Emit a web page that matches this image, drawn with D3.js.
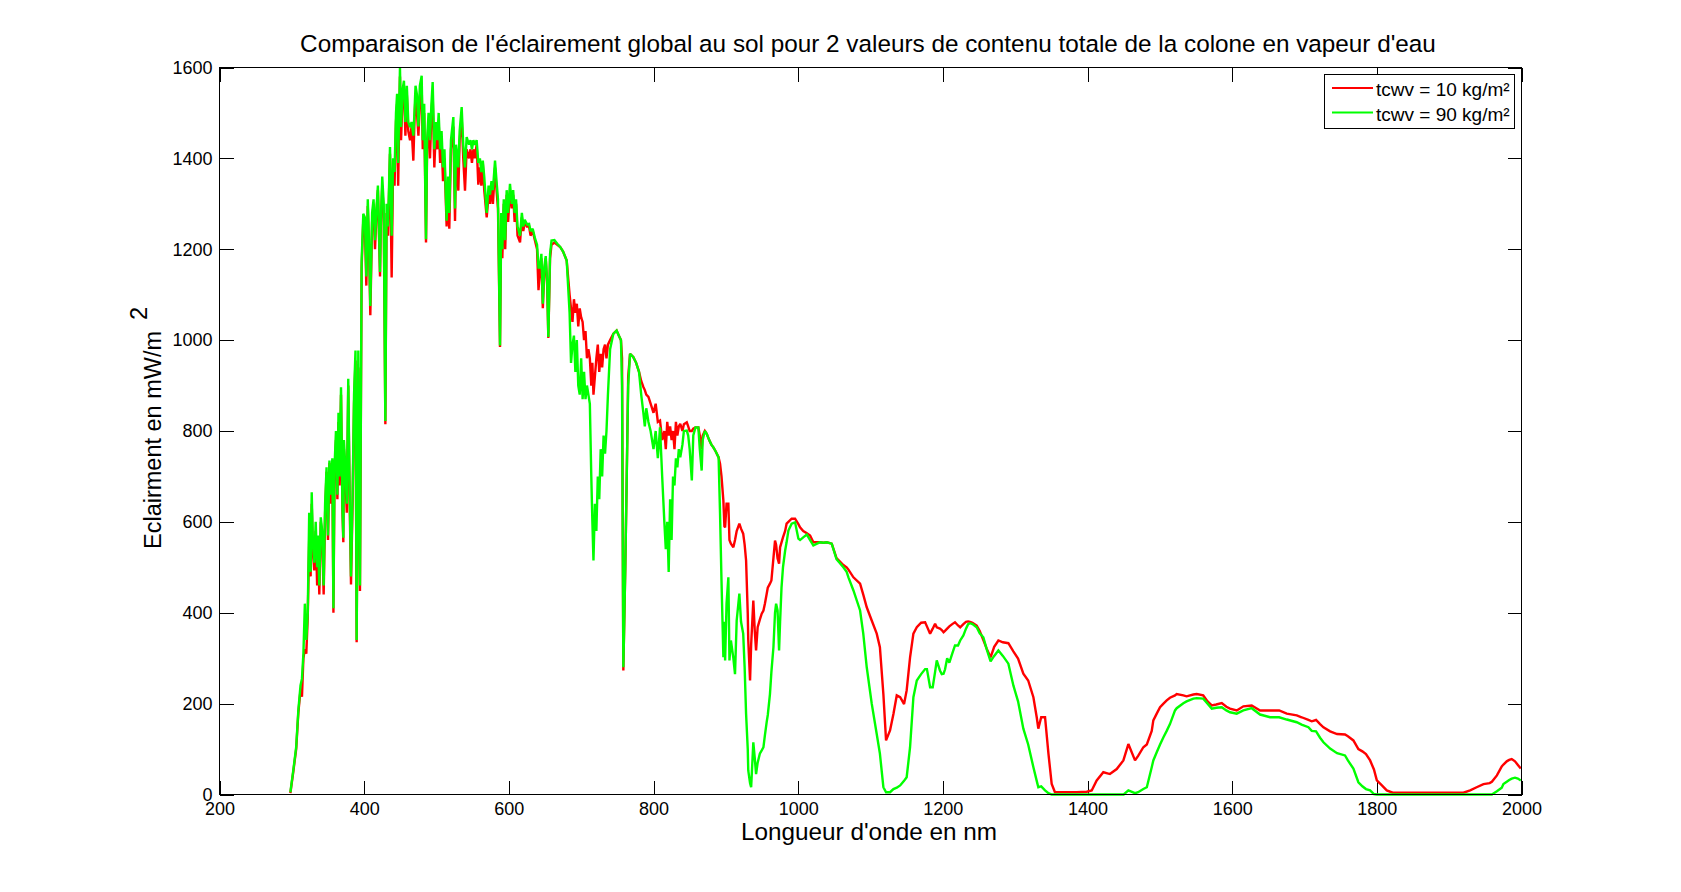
<!DOCTYPE html>
<html><head><meta charset="utf-8">
<script src="https://cdn.jsdelivr.net/npm/d3@7"></script>
<style>
body{margin:0;background:#fff}
text{font-family:"Liberation Sans",Arial,Helvetica,sans-serif;fill:#000}
</style>
</head><body>
<svg id="chart" width="1681" height="892"></svg>
<script>
// ---------- DATA ----------
const xTickValues = [200,400,600,800,1000,1200,1400,1600,1800,2000];
const yTickValues = [0,200,400,600,800,1000,1200,1400,1600];
const seriesNames = ["tcwv = 10 kg/m\u00b2", "tcwv = 90 kg/m\u00b2"];
const titleText = "Comparaison de l'\u00e9clairement global au sol pour 2 valeurs de contenu totale de la colone en vapeur d'eau";
const xLabelText = "Longueur d'onde en nm";
const yLabelText = "Eclairment en mW/m";

// [wavelength nm, irradiance] for tcwv = 10 kg/m²
const tcwv10 = [[298,3],[302,50],[306,100],[309,180],[312,230],[314,215],[316,300],[318,320],[320,310],[322,390],[324,560],[326,480],[327.5,640],[329,540],[331,493],[333,580],[335,460],[336,560],[338,440],[340,600],[342,560],[344,440],[346,620],[348,710],[350,560],[352,730],[354,640],[356,720],[357.5,400],[359,700],[361,780],[363,650],[364.5,820],[366,680],[368,880],[370,620],[371.2,555],[372,760],[374,700],[376,620],[378,900],[380,640],[381.8,462],[384,640],[386,860],[388,955],[389.6,335],[391.9,940],[394.2,448],[396.5,1160],[398.8,1265],[401,1250],[403,1120],[405,1295],[407,1180],[408.5,1055],[411,1260],[413,1300],[415,1200],[417,1280],[419,1330],[421.9,1140],[423,1250],[425,1340],[427,1280],[429.3,815],[431,1280],[433,1230],[435.7,1410],[438,1138],[440,1380],[442,1340],[444,1480],[445.5,1520],[447,1340],[449.5,1580],[451,1440],[453,1530],[455,1560],[457,1450],[459,1540],[461,1460],[463.4,1440],[465.5,1470],[468,1395],[469.5,1480],[471,1540],[473,1500],[475,1450],[477,1520],[479.5,1560],[481,1420],[483,1500],[485.5,1215],[487,1420],[489,1480],[491,1400],[493,1500],[494.7,1540],[497,1380],[499,1460],[501,1420],[503,1480],[505,1390],[507,1440],[509,1350],[511,1400],[514,1250],[516,1330],[517.7,1245],[520,1420],[523.3,1470],[525.6,1262],[527,1400],[530.2,1329],[532,1440],[534.8,1490],[537,1400],[539.4,1329],[541.7,1420],[545,1400],[547,1420],[549,1390],[551,1420],[553,1400],[555.5,1430],[557.8,1342],[560,1380],[562,1340],[564,1390],[566,1330],[569.4,1270],[572,1320],[574,1300],[576,1340],[578,1300],[580.9,1380],[583,1330],[585,1290],[587.8,985],[589.5,1260],[591,1180],[593,1300],[595,1200],[597,1320],[599,1260],[601.6,1330],[604,1290],[606,1320],[608,1260],[610,1300],[612,1230],[615.5,1215],[618,1270],[620,1240],[622,1260],[625,1250],[628,1250],[630,1230],[633,1240],[636,1220],[639,1200],[641,1110],[643,1150],[645,1180],[647,1070],[649,1150],[651,1180],[653,1120],[654.6,1005],[657,1180],[659,1210],[663,1215],[667,1210],[671,1205],[675,1195],[680,1175],[684,1100],[686,1070],[688,1040],[690,1090],[692,1060],[694,1080],[696,1030],[698,1070],[700,1050],[702,1040],[704,1000],[706,1020],[708,960],[710,980],[712,960],[714,900],[715.5,950],[717,880],[719,920],[721,960],[723,990],[725,930],[727,970],[729,940],[731,980],[733,990],[735,960],[737,990],[740,1000],[744.5,1014],[749,1021],[752,1010],[755,1000],[756.5,960],[758.3,273],[761,500],[763,700],[765,920],[767.6,970],[772,963],[776,950],[780,930],[783,910],[786,897],[788,890],[790,880],[793,875],[796,860],[800,840],[803,860],[806,820],[809,823],[812,780],[815,800],[817,760],[819,820],[821,790],[823,810],[825,780],[827,800],[829,760],[831,820],[833,790],[835,810],[837,816],[840,800],[842,815],[846,819],[848,810],[850,800],[853,800],[855,805],[858,808],[862,808],[864,790],[866.6,760],[868,790],[871,800],[873.6,794],[877,780],[880,770],[882.8,764],[886,755],[890,742],[892,728],[894,700],[896.6,647],[898,590],[899,588],[901,640],[903.5,640],[905,560],[907,552],[910.4,544],[912.7,560],[915,580],[918.7,596],[921,585],[924,574],[926,550],[928,515],[930.3,398],[931,340],[933.5,251],[935,330],[938,427],[940,360],[941.8,317],[944,368],[947,385],[949.6,398],[952,405],[954,420],[956.5,442],[958,455],[961,464],[963,471],[965.8,520],[968,559],[969.5,550],[971.5,520],[973.6,508],[975,544],[977,555],[979,566],[982,580],[984,596],[986.5,600],[991,607],[995.7,607],[1000.3,595],[1002.6,588],[1007,580],[1012,575],[1016.5,570],[1021,555],[1026,555],[1030,555],[1035,554],[1039.5,555],[1046.4,552],[1053,520],[1062.5,505],[1067,500],[1069.5,495],[1076.4,478],[1085.6,464],[1090,440],[1094.8,412],[1101.7,383],[1108.6,354],[1113,324],[1117.8,221],[1121.5,119],[1127,141],[1131.7,177],[1136.3,218],[1141,214],[1146.4,199],[1150,229],[1154.7,302],[1159.3,354],[1164,368],[1170,378],[1175.5,379],[1178,370],[1182.4,354],[1186,365],[1189.3,376],[1191.6,368],[1196,365],[1198.5,362],[1201,357],[1203,360],[1206,365],[1209,370],[1213,375],[1216.8,379],[1221,372],[1224,368],[1228.4,375],[1232,380],[1235,381],[1237.6,380],[1241,378],[1246.8,372],[1251,360],[1256,340],[1260.6,321],[1266,302],[1271,325],[1276.8,339],[1283,335],[1290.6,333],[1297.5,315],[1304,299],[1311.3,266],[1318,251],[1325.2,214],[1329.8,170],[1332,145],[1336,170],[1341.3,170],[1346,90],[1350.5,23],[1355,5],[1370,5],[1385,5],[1399,6],[1405.8,9],[1412.7,31],[1421.9,49],[1431,45],[1440.4,56],[1449.6,75],[1456.5,111],[1465.7,75],[1470,85],[1477.2,104],[1482,110],[1488.8,140],[1491,163],[1495.7,178],[1500.3,192],[1505,200],[1509.5,207],[1514,213],[1521,218],[1523.3,221],[1532.5,218],[1537,216],[1546.4,220],[1551,221],[1560,218],[1566,205],[1571.8,196],[1578,198],[1585.6,201],[1592,193],[1597,189],[1606.3,185],[1615.5,194],[1627,196],[1638.6,185],[1652.4,185],[1665,185],[1675.5,178],[1689.3,174],[1696,170],[1705.4,164],[1710,161],[1716,164],[1721.5,155],[1726.2,148],[1735.4,139],[1745,133],[1756,132],[1760,128],[1767.6,119],[1774.5,100],[1780,95],[1785,89],[1790.7,75],[1796,55],[1800,31],[1807,20],[1813.7,9],[1822,4],[1850,4],[1880,4],[1919.7,4],[1929,9],[1938,16],[1947.4,23],[1956,25],[1959,28],[1966,42],[1972.7,62],[1975,66],[1979.6,73],[1983,76],[1986.5,78],[1991,73],[1995,65],[1999,57]];

// [wavelength nm, irradiance] for tcwv = 90 kg/m²
const tcwv90 = [[298,5],[302,53],[306,104],[309,185],[312,240],[314,255],[316,310],[318,420],[320,340],[322,400],[324,620],[326,490],[327.5,665],[329,560],[331,510],[333,600],[335,500],[336,570],[338,460],[340,610],[342,580],[344,460],[346,640],[348,720],[350,570],[352,735],[354,660],[356,740],[357.5,410],[359,720],[361,800],[363,660],[364.5,840],[366,700],[368,896],[370,630],[371.2,565],[372,780],[374,720],[376,640],[378,915],[380,660],[381.8,480],[384,660],[386,880],[388,977],[389.6,340],[391.9,977],[394.2,460],[396.5,1175],[398.8,1278],[401,1270],[403,1140],[405,1310],[407,1200],[408.5,1075],[411,1280],[413,1310],[415,1220],[417,1290],[419,1340],[421.9,1150],[423,1260],[425,1360],[427,1300],[429.3,822],[431,1300],[433,1250],[435.7,1425],[438,1230],[440,1400],[442,1370],[444,1500],[445.5,1542],[447,1390],[449.5,1600],[451,1469],[453,1550],[455,1571],[457,1480],[459,1560],[461,1480],[463.4,1469],[465.5,1480],[468,1450],[469.5,1500],[471,1560],[473,1540],[475,1470],[477,1560],[479.5,1582],[481,1440],[483,1520],[485.5,1222],[487,1440],[489,1500],[491,1440],[493,1520],[494.7,1568],[497,1420],[499,1480],[501,1440],[503,1500],[505,1420],[507,1460],[509,1380],[511,1420],[514,1263],[516,1360],[517.7,1280],[520,1440],[523.3,1491],[525.6,1290],[527,1430],[530.2,1380],[532,1460],[534.8,1513],[537,1430],[539.4,1380],[541.7,1447],[545,1430],[547,1440],[549,1420],[551,1440],[553,1430],[555.5,1440],[557.8,1390],[560,1400],[562,1370],[564,1395],[566,1360],[569.4,1280],[572,1340],[574,1320],[576,1350],[578,1330],[580.9,1395],[583,1350],[585,1310],[587.8,988],[589.5,1280],[591,1200],[593,1310],[595,1220],[597,1330],[599,1280],[601.6,1344],[604,1300],[606,1330],[608,1280],[610,1310],[612,1250],[615.5,1230],[618,1280],[620,1250],[622,1265],[625,1255],[628,1256],[630,1240],[633,1245],[636,1225],[639,1210],[641,1160],[643,1160],[645,1190],[647,1080],[649,1160],[651,1185],[653,1130],[654.6,1007],[657,1190],[659,1219],[663,1220],[667,1212],[671,1205],[675,1195],[680,1175],[684,1060],[686,950],[688,990],[690,1010],[692,930],[694,1000],[696,900],[698,880],[700,960],[702,870],[704,930],[706,870],[708,900],[710,880],[712,860],[714,700],[715.5,600],[717,515],[719,640],[721,580],[723,700],[725,650],[727,760],[729,700],[731,790],[733,750],[735,800],[737,880],[740,980],[744.5,1014],[749,1021],[752,1010],[755,1000],[756.5,900],[758.3,280],[761,500],[763,700],[765,900],[767.6,970],[772,963],[776,950],[780,930],[783,880],[786,840],[788,810],[790,850],[793,820],[796,800],[800,760],[803,800],[806,740],[809,808],[812,700],[815,600],[817,540],[819,600],[821,490],[823,650],[825,560],[827,700],[829,680],[831,740],[833,720],[835,760],[837,742],[840,770],[842,800],[846,801],[848,790],[850,760],[853,691],[855,790],[858,808],[862,808],[864,760],[866.6,713],[868,780],[871,800],[873.6,794],[877,780],[880,770],[882.8,764],[886,755],[890,742],[892,618],[894,471],[896.6,302],[898,380],[899,295],[901,420],[903.5,478],[905,295],[907,339],[910.4,300],[912.7,265],[915,383],[918.7,442],[921,380],[924,354],[926,280],[928,177],[930.3,100],[931,53],[933.5,25],[935,16],[938,115],[940,80],[941.8,45],[944,70],[947,90],[949.6,97],[952,104],[954,130],[956.5,160],[958,175],[961,221],[963,270],[965.8,324],[968,400],[969.5,420],[971.5,405],[973.6,317],[975,380],[977,456],[979,500],[982,537],[984,555],[986.5,581],[991,596],[995.7,599],[1000.3,563],[1002.6,560],[1007,566],[1012,572],[1016.5,560],[1021,548],[1026,552],[1030,555],[1035,554],[1039.5,555],[1046.4,552],[1053,518],[1062.5,500],[1067,490],[1069.5,478],[1076.4,449],[1085.6,405],[1090,354],[1094.8,280],[1101.7,200],[1108.6,133],[1113,90],[1117.8,16],[1121.5,5],[1127,5],[1131.7,12],[1136.3,15],[1141,20],[1146.4,30],[1150,38],[1154.7,104],[1159.3,214],[1164,251],[1170,265],[1175.5,276],[1178,276],[1182.4,236],[1186,236],[1189.3,270],[1191.6,295],[1196,273],[1198.5,265],[1201,266],[1203,275],[1206,300],[1209,290],[1213,310],[1216.8,328],[1221,328],[1224,339],[1228.4,350],[1232,365],[1235,375],[1237.6,377],[1241,375],[1246.8,368],[1251,355],[1256,346],[1260.6,320],[1266,293],[1271,305],[1276.8,317],[1283,305],[1290.6,288],[1297.5,240],[1304,205],[1311.3,145],[1318,110],[1325.2,60],[1329.8,30],[1332,16],[1336,18],[1341.3,9],[1346,3],[1350.5,0],[1400,0],[1450,0],[1456.5,9],[1465.7,3],[1470,5],[1477.2,12],[1482,16],[1488.8,60],[1491,75],[1495.7,93],[1500.3,110],[1505,126],[1509.5,140],[1514,155],[1521,185],[1523.3,190],[1532.5,201],[1537,205],[1546.4,211],[1551,212],[1560,211],[1566,200],[1571.8,189],[1578,191],[1585.6,192],[1592,185],[1597,181],[1606.3,178],[1615.5,185],[1627,190],[1638.6,176],[1652.4,170],[1665,170],[1675.5,165],[1689.3,159],[1696,154],[1705.4,148],[1710,140],[1716,139],[1721.5,125],[1726.2,115],[1735.4,101],[1745,91],[1756,86],[1760,75],[1767.6,57],[1774.5,27],[1780,18],[1785,12],[1790.7,9],[1796,1],[1800,0],[1900,0],[1959,0],[1966,7],[1972.7,15],[1975,23],[1979.6,28],[1983,32],[1986.5,35],[1991,37],[1995,35],[1999,31]];

// ---------- DRAW ----------
const svg = d3.select("#chart");
const L = 219.5, R = 1521.5, T = 67.5, B = 794.5;
const x = d3.scaleLinear().domain([200, 2000]).range([L, R]);
const y = d3.scaleLinear().domain([0, 1600]).range([B, T]);
const FS = 18;

svg.append("rect").attr("width", 1681).attr("height", 892).attr("fill", "#fff");

// axes
const gB = svg.append("g").attr("transform", `translate(0,${B})`)
  .call(d3.axisBottom(x).tickValues(xTickValues).tickSizeInner(-14).tickSizeOuter(0).tickPadding(8).tickFormat(d3.format("d")));
const gT = svg.append("g").attr("transform", `translate(0,${T})`)
  .call(d3.axisTop(x).tickValues(xTickValues).tickSizeInner(-14).tickSizeOuter(0).tickFormat(""));
const gL = svg.append("g").attr("transform", `translate(${L},0)`)
  .call(d3.axisLeft(y).tickValues(yTickValues).tickSizeInner(-14).tickSizeOuter(0).tickPadding(7).tickFormat(d3.format("d")));
const gR = svg.append("g").attr("transform", `translate(${R},0)`)
  .call(d3.axisRight(y).tickValues(yTickValues).tickSizeInner(-14).tickSizeOuter(0).tickFormat(""));
[gB, gT, gL, gR].forEach(g => {
  g.select(".domain").remove();
  g.selectAll("line").attr("stroke", "#000").attr("shape-rendering", "crispEdges");
  g.selectAll("text").attr("font-size", FS).attr("font-family", null).attr("fill", "#000");
});

// series
const line = d3.line().x(d => x(d[0])).y(d => y(d[1]));
const plotG = svg.append("g");
[[tcwv10, "#ff0000"], [tcwv90, "#00ff00"]].forEach(([data, color]) => {
  plotG.append("path").datum(data).attr("d", line)
    .attr("fill", "none").attr("stroke", color).attr("stroke-width", 2.4)
    .attr("stroke-linejoin", "miter").attr("stroke-miterlimit", 2);
});

// frame
svg.append("rect").attr("x", L).attr("y", T).attr("width", R - L).attr("height", B - T)
  .attr("fill", "none").attr("stroke", "#000").attr("stroke-width", 1).attr("shape-rendering", "crispEdges");

// title
svg.append("text").attr("x", 868).attr("y", 52).attr("text-anchor", "middle")
  .attr("font-size", 24.3).text(titleText);

// x label
svg.append("text").attr("x", 869).attr("y", 840).attr("text-anchor", "middle")
  .attr("font-size", 24.3).text(xLabelText);

// y label with superscript 2
const yl = svg.append("text").attr("transform", "translate(161,549) rotate(-90)")
  .attr("text-anchor", "start").attr("font-size", 23.5);
yl.append("tspan").text(yLabelText);
yl.append("tspan").attr("dx", 11).attr("dy", -14).text("2");

// legend
const lg = svg.append("g");
lg.append("rect").attr("x", 1324.5).attr("y", 74.5).attr("width", 190).attr("height", 54)
  .attr("fill", "#fff").attr("stroke", "#000").attr("shape-rendering", "crispEdges");
const legColors = ["#ff0000", "#00ff00"];
seriesNames.forEach((name, i) => {
  const cy = 88 + i * 24.5;
  lg.append("line").attr("x1", 1332).attr("x2", 1373).attr("y1", cy).attr("y2", cy)
    .attr("stroke", legColors[i]).attr("stroke-width", 2);
  lg.append("text").attr("x", 1376).attr("y", cy + 8).attr("font-size", 19).text(name);
});
</script>
</body></html>
